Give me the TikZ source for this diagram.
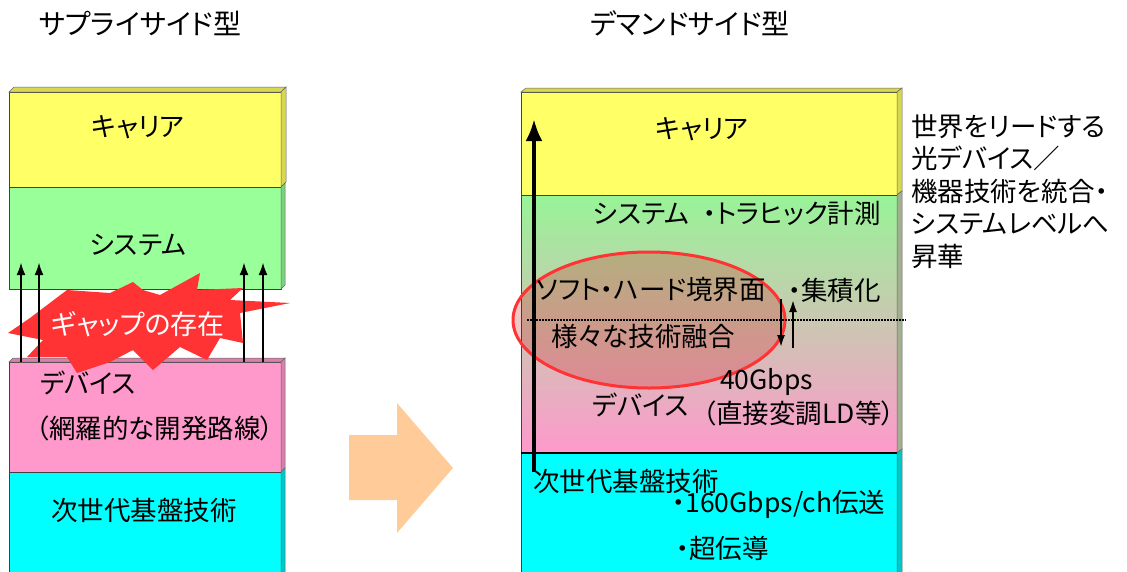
\documentclass[tikz,border=0pt]{standalone}
\usepackage{fontspec}
\setmainfont{Noto Sans CJK JP}[RawFeature=+palt]
\usetikzlibrary{arrows.meta}
\definecolor{cyel}{HTML}{FFFF66}
\definecolor{cyelD}{HTML}{D8D850}
\definecolor{cgrn}{HTML}{99FF99}
\definecolor{cgrnD}{HTML}{7FD07F}
\definecolor{cpnk}{HTML}{FF99CC}
\definecolor{cpnkD}{HTML}{D880AA}
\definecolor{ccyn}{HTML}{00FFFF}
\definecolor{ccynD}{HTML}{00C8C8}
\definecolor{cpeach}{HTML}{FFCC99}
\definecolor{cred}{HTML}{FF3333}
\definecolor{cgrnR}{HTML}{98F498}
\begin{document}
\begin{tikzpicture}[x=1pt,y=-1pt,
  layer/.style={draw=black!75, line width=0.8pt, inner sep=0pt, outer sep=0pt, anchor=north west},
  lbl/.style={inner sep=0pt, font=\fontsize{26.5}{30}\selectfont},
  lblw/.style={lbl, anchor=west},
  upar/.style={line width=2.4pt, -{Latex[length=13pt,width=9pt]}},
  face/.style={draw=black!60, line width=0.5pt}]
\useasboundingbox (0,0) rectangle (1127,571);

% titles
\node[lbl, font=\fontsize{28}{32}\selectfont] (t1) at (140,23) {サプライサイド型};
\node[lbl, font=\fontsize{28}{32}\selectfont] (t2) at (690,23) {デマンドサイド型};

% ---------- left column ----------
\node[layer, fill=cyel, minimum width=272, minimum height=95] (Lcar) at (9,92) {};
\node[layer, fill=cgrn, minimum width=272, minimum height=102] (Lsys) at (9,187) {};
\node[layer, fill=cpnk, minimum width=272, minimum height=110] (Ldev) at (9,362) {};
\node[layer, fill=ccyn, minimum width=272, minimum height=110] (Lnxt) at (9,472) {};
\filldraw[face, fill=cyelD] (Lcar.north west) -- ++(5,-5) -- ++(272,0) -- (Lcar.north east) -- cycle;
\filldraw[face, fill=cyelD] (Lcar.north east) -- ++(5,-5) -- ++(0,95) -- (Lcar.south east) -- cycle;
\filldraw[face, fill=cgrnD] (Lsys.north east) -- ++(4,-4) -- ++(0,102) -- (Lsys.south east) -- cycle;
\filldraw[face, fill=cpnkD] (Ldev.north west) -- ++(4,-4) -- ++(272,0) -- (Ldev.north east) -- cycle;
\filldraw[face, fill=cpnkD] (Ldev.north east) -- ++(4,-4) -- ++(0,110) -- (Ldev.south east) -- cycle;
\filldraw[face, fill=ccynD] (Lnxt.north east) -- ++(4,-4) -- ++(0,110) -- (Lnxt.south east) -- cycle;

\node[lbl] (lcar) at (138,127) {キャリア};
\node[lbl] (lsys) at (138,245) {システム};

% gap burst
\fill[cred] (8,333) -- (30,318) -- (67,290) -- (110,293) -- (133,282) -- (143,290)
  -- (160,295) -- (200,273) -- (197,290) -- (243,288) -- (230,300) -- (290,303)
  -- (240,313) -- (243,343) -- (220,338) -- (207,360) -- (180,347) -- (153,370)
  -- (133,350) -- (110,362) -- (77,373) -- (67,357) -- (27,357) -- (43,340) -- cycle;
\node[lbl, text=white, font=\fontsize{27}{30}\selectfont] (gap) at (138,324) {ギャップの存在};

\node[lbl] (ldev) at (88,383) {デバイス};
\node[lbl] (ldev2) at (155,428) {（網羅的な開発路線）};
\node[lbl] (lnxt) at (144,510) {次世代基盤技術};

\coordinate (a1s) at (21,362); \coordinate (a1e) at (21,262);
\coordinate (a2s) at (39,362); \coordinate (a2e) at (39,262);
\coordinate (a3s) at (244,362); \coordinate (a3e) at (244,262);
\coordinate (a4s) at (263,362); \coordinate (a4e) at (263,262);
\draw[upar] (a1s) -- (a1e);
\draw[upar] (a2s) -- (a2e);
\draw[upar] (a3s) -- (a3e);
\draw[upar] (a4s) -- (a4e);

% ---------- big peach arrow ----------
\fill[cpeach] (349,435) -- (397,435) -- (397,403) -- (453,468) -- (397,533) -- (397,500) -- (349,500) -- cycle;

% ---------- right column ----------
\node[layer, fill=cyel, minimum width=376, minimum height=103] (Rcar) at (521,92) {};
\node[layer, top color=cgrnR, bottom color=cpnk, minimum width=376, minimum height=258] (Rmid) at (521,195) {};
\node[layer, fill=ccyn, minimum width=376, minimum height=125] (Rnxt) at (521,453) {};
\draw[line width=2pt] (Rnxt.north west) -- (Rnxt.north east);
\filldraw[face, fill=cyelD] (Rcar.north west) -- ++(5,-4) -- ++(376,0) -- (Rcar.north east) -- cycle;
\filldraw[face, fill=cyelD] (Rcar.north east) -- ++(5,-4) -- ++(0,103) -- (Rcar.south east) -- cycle;
\filldraw[face, fill=cgrnD!60!cpnkD] (Rmid.north east) -- ++(5,-4) -- ++(0,258) -- (Rmid.south east) -- cycle;
\filldraw[face, fill=ccynD] (Rnxt.north east) -- ++(5,-4) -- ++(0,125) -- (Rnxt.south east) -- cycle;

\draw[cred, line width=3pt, fill=red!80!black, fill opacity=0.22] (649,320) ellipse [x radius=136, y radius=68];

\coordinate (dl1) at (527,320); \coordinate (dl2) at (906,320);
\draw[line width=1.6pt, dash pattern=on 1.6pt off 1.4pt] (dl1) -- (dl2);

\node[lbl] (rcar) at (702,129) {キャリア};
\node[lblw] (rsys) at (593,213) {システム\hspace{0.5em}・トラヒック計測};
\node[lblw] (rsh) at (536,290) {ソフト・ハード境界面};
\node[lblw] (rint) at (788,290) {・集積化};
\node[lblw] (rfus) at (551,336) {様々な技術融合};
\node[lblw] (r40) at (720,382) {40Gbps};
\node[lblw] (rdev) at (592,405) {デバイス};
\node[lblw] (rld) at (703,413) {（直接変調LD等）};
\node[lblw] (rnxt) at (533,481) {次世代基盤技術};
\node[lblw] (r160) at (672,504) {・160Gbps/ch伝送};
\node[lblw] (rsc) at (676,548) {・超伝導};

\node[anchor=north west, inner sep=0pt, align=left, font=\fontsize{26.5}{32.5}\selectfont] (rside) at (911,114)
  {世界をリードする\\光デバイス／\\機器技術を統合・\\システムレベルへ\\昇華};

\coordinate (bs) at (534,472); \coordinate (be) at (534,119);
\draw[line width=4pt, -{Latex[length=22pt,width=17pt]}] (bs) -- (be);
\coordinate (dn1) at (781,299); \coordinate (dn2) at (781,348);
\coordinate (up1) at (793,348); \coordinate (up2) at (793,299);
\draw[line width=2.6pt, -{Latex[length=13pt,width=8pt]}] (dn1) -- (dn2);
\draw[line width=2.6pt, -{Latex[length=13pt,width=8pt]}] (up1) -- (up2);
\end{tikzpicture}
\end{document}
